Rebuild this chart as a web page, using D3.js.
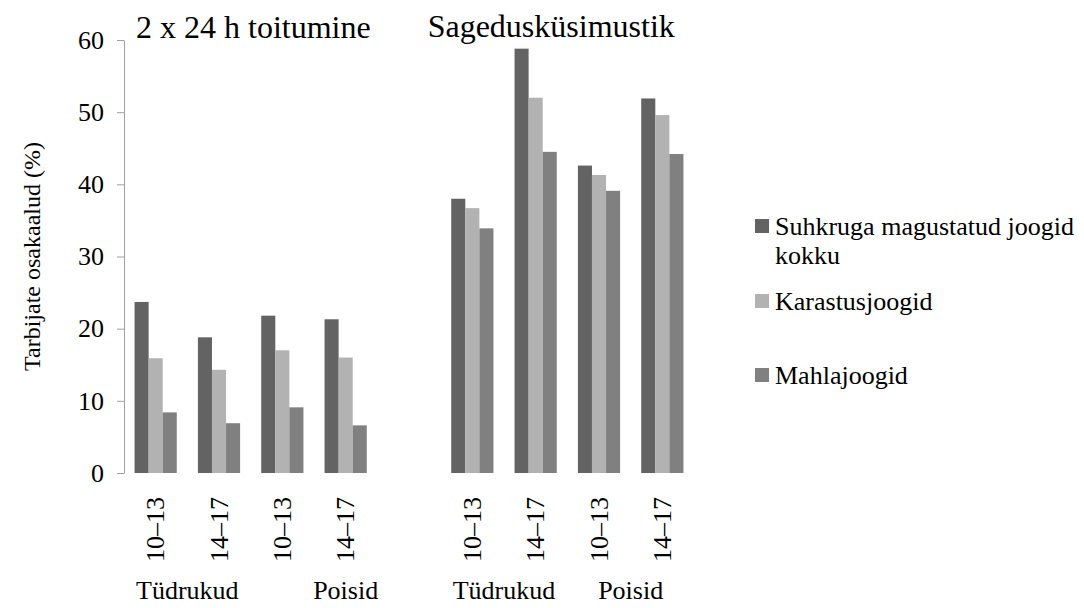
<!DOCTYPE html>
<html>
<head>
<meta charset="utf-8">
<script src="https://cdn.jsdelivr.net/npm/d3@7"></script>
</head>
<body style="margin:0">
<script>
// Category slots (slot 4 is the empty gap between the two methods)
var ageLabels = ["10–13", "14–17", "10–13", "14–17", "", "10–13", "14–17", "10–13", "14–17"];
var seriesNames = ["Suhkruga magustatud joogid kokku", "Karastusjoogid", "Mahlajoogid"];
var seriesColors = ["#636363", "#b2b2b2", "#808080"];

// values (%)
var sugarTotal = [23.7, 18.8, 21.8, 21.3, null, 38.0, 58.8, 42.6, 51.9];
var softDrinks = [15.9, 14.3, 17.0, 16.0, null, 36.7, 52.0, 41.3, 49.6];
var juiceDrinks = [8.4, 6.9, 9.1, 6.6, null, 33.9, 44.5, 39.1, 44.2];

var yTicks = [0, 10, 20, 30, 40, 50, 60];
var panelTitles = ["2 x 24 h toitumine", "Sagedusküsimustik"];
var genderLabels = ["Tüdrukud", "Poisid", "Tüdrukud", "Poisid"];

var serif = "Times New Roman";

var svg = d3.select("body")
  .append("svg")
  .attr("width", 1084)
  .attr("height", 608);

var slots = ageLabels.map(function(d, i) { return i; });

var x0 = d3.scaleBand()
  .domain(slots)
  .range([124, 694]);

var x1 = d3.scaleBand()
  .domain([0, 1, 2])
  .range([x0.bandwidth() / 6, x0.bandwidth() * 5 / 6]);

var yScale = d3.scaleLinear()
  .domain([0, 60])
  .range([473, 40]);

// y axis
var yAxis = svg.append("g")
  .attr("transform", "translate(124, 0)")
  .call(d3.axisLeft(yScale).tickValues(yTicks).tickSize(7).tickPadding(13).tickSizeOuter(0));
yAxis.attr("font-family", serif).attr("font-size", 26);
yAxis.selectAll("path, line").attr("stroke", "#a0a0a0");
yAxis.selectAll("text").attr("fill", "#000");

// bars
var table = slots.map(function(i) {
  return [sugarTotal[i], softDrinks[i], juiceDrinks[i]];
});

var groups = svg.selectAll("g.slot")
  .data(table)
  .enter()
  .append("g")
  .attr("class", "slot")
  .attr("transform", function(d, i) { return "translate(" + x0(i) + ", 0)"; });

groups.selectAll("rect")
  .data(function(d) { return d.map(function(v, k) { return { k: k, v: v }; }).filter(function(e) { return e.v != null; }); })
  .enter()
  .append("rect")
  .attr("x", function(d) { return x1(d.k); })
  .attr("width", x1.bandwidth())
  .attr("y", function(d) { return yScale(d.v); })
  .attr("height", function(d) { return yScale(0) - yScale(d.v); })
  .attr("fill", function(d) { return seriesColors[d.k]; });

// rotated age labels
svg.selectAll("text.age")
  .data(ageLabels)
  .enter()
  .append("text")
  .attr("class", "age")
  .attr("transform", function(d, i) {
    return "translate(" + (x0(i) + x0.bandwidth() / 2) + ", 497) rotate(-90)";
  })
  .attr("text-anchor", "end")
  .attr("dy", "0.33em")
  .attr("font-family", serif)
  .attr("font-size", 26)
  .text(function(d) { return d; });

// gender labels under the ages
var genderPos = [
  (x0(0) + x0(1)) / 2 + x0.bandwidth() / 2,
  x0(3) + x0.bandwidth() / 2,
  (x0(5) + x0(6)) / 2 + x0.bandwidth() / 2,
  (x0(7) + x0(8)) / 2 + x0.bandwidth() / 2
];
svg.selectAll("text.gender")
  .data(genderLabels)
  .enter()
  .append("text")
  .attr("class", "gender")
  .attr("x", function(d, i) { return genderPos[i]; })
  .attr("y", 599)
  .attr("text-anchor", "middle")
  .attr("font-family", serif)
  .attr("font-size", 26)
  .text(function(d) { return d; });

// panel titles
svg.append("text")
  .attr("x", x0(0) + 12)
  .attr("y", 38)
  .attr("font-family", serif)
  .attr("font-size", 32)
  .text(panelTitles[0]);

svg.append("text")
  .attr("x", x0(5) - 13)
  .attr("y", 37)
  .attr("font-family", serif)
  .attr("font-size", 32)
  .text(panelTitles[1]);

// y axis title
svg.append("text")
  .attr("transform", "translate(40, 256.5) rotate(-90)")
  .attr("text-anchor", "middle")
  .attr("font-family", serif)
  .attr("font-size", 24)
  .text("Tarbijate osakaalud (%)");

// legend
var legendRows = [
  { top: 219, lines: ["Suhkruga magustatud joogid", "kokku"] },
  { top: 294, lines: ["Karastusjoogid"] },
  { top: 368, lines: ["Mahlajoogid"] }
];
legendRows.forEach(function(row, i) {
  svg.append("rect")
    .attr("x", 755)
    .attr("y", row.top)
    .attr("width", 14)
    .attr("height", 14)
    .attr("fill", seriesColors[i]);
  var t = svg.append("text")
    .attr("x", 775)
    .attr("y", row.top + 16)
    .attr("font-family", serif)
    .attr("font-size", 26);
  row.lines.forEach(function(line, j) {
    t.append("tspan")
      .attr("x", 775)
      .attr("dy", j === 0 ? 0 : 29)
      .text(line);
  });
});
</script>
</body>
</html>
